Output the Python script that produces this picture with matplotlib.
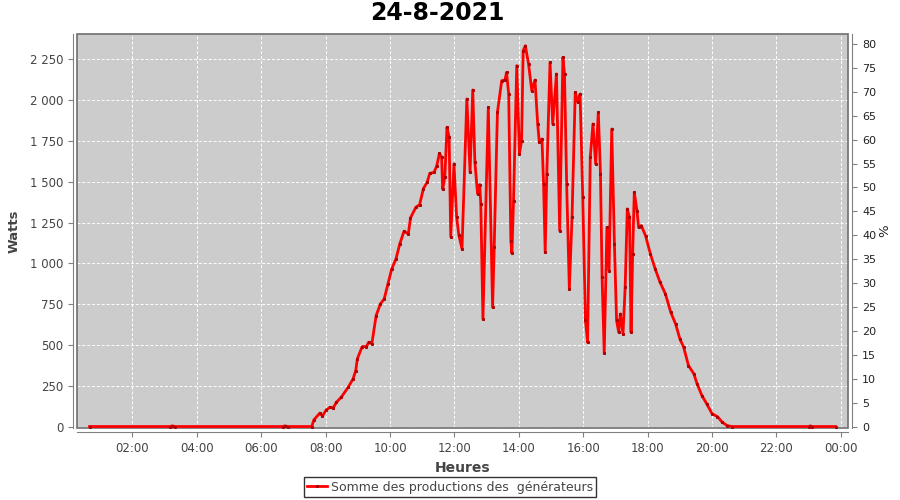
import pandas as pd
import matplotlib
matplotlib.use("Agg")
import matplotlib.pyplot as plt
from matplotlib.lines import Line2D
from matplotlib.patches import Rectangle
from matplotlib.ticker import FuncFormatter, MultipleLocator

# Données : heure et puissance (W)
heures = [
    "00:40", "03:10", "03:14", "03:20", "06:40", "06:44", "06:50", "07:34",
    "07:38", "07:49", "07:54", "08:01", "08:08", "08:14", "08:20", "08:29",
    "08:42", "08:51", "08:56", "08:59", "09:08", "09:16", "09:20", "09:26",
    "09:34", "09:42", "09:49", "09:56", "10:03", "10:11", "10:18", "10:26",
    "10:34", "10:38", "10:48", "10:55", "11:02", "11:09", "11:14", "11:22",
    "11:27", "11:32", "11:36", "11:38", "11:42", "11:46", "11:50", "11:53",
    "11:59", "12:04", "12:08", "12:14", "12:23", "12:29", "12:34", "12:38",
    "12:43", "12:47", "12:49", "12:53", "13:03", "13:11", "13:14", "13:20",
    "13:28", "13:34", "13:37", "13:41", "13:45", "13:47", "13:50", "13:56",
    "14:01", "14:05", "14:08", "14:12", "14:18", "14:24", "14:30", "14:35",
    "14:38", "14:43", "14:46", "14:49", "14:52", "14:58", "15:03", "15:10",
    "15:16", "15:22", "15:25", "15:29", "15:34", "15:39", "15:45", "15:50",
    "15:54", "15:59", "16:04", "16:08", "16:13", "16:18", "16:23", "16:28",
    "16:32", "16:35", "16:39", "16:44", "16:48", "16:53", "16:58", "17:02",
    "17:06", "17:09", "17:14", "17:18", "17:22", "17:26", "17:29", "17:32",
    "17:35", "17:40", "17:43", "17:48", "17:56", "18:05", "18:14", "18:23",
    "18:33", "18:43", "18:52", "19:00", "19:07", "19:16", "19:26", "19:32",
    "19:41", "19:50", "20:00", "20:10", "20:19", "20:28", "20:37", "23:00",
    "23:03", "23:06", "23:50",
]
watts = [
    0, 0, 4, 0, 0, 4, 0, 0,
    41, 82, 65, 102, 118, 114, 149, 180,
    241, 292, 343, 415, 490, 490, 517, 507,
    680, 752, 782, 874, 966, 1027, 1119, 1197,
    1181, 1279, 1344, 1360, 1458, 1497, 1552, 1558,
    1599, 1675, 1650, 1455, 1528, 1834, 1773, 1164,
    1610, 1282, 1176, 1089, 2008, 1558, 2063, 1620,
    1426, 1483, 1364, 660, 1956, 731, 1099, 1926,
    2120, 2124, 2171, 2038, 1140, 1062, 1385, 2212,
    1671, 1752, 2304, 2334, 2222, 2059, 2124, 1855,
    1742, 1763, 1487, 1068, 1548, 2232, 1855, 2161,
    1201, 2263, 2161, 1487, 844, 1282, 2048, 1987,
    2038, 1405, 650, 516, 1650, 1855, 1610, 1926,
    1548, 915, 450, 1221, 956, 1824, 1119, 650,
    578, 690, 568, 853, 1334, 1282, 578, 1058,
    1436, 1323, 1221, 1232, 1170, 1058, 966, 884,
    813, 700, 629, 537, 486, 374, 323, 262,
    190, 139, 78, 61, 26, 6, 0, 0,
    4, 0, 0,
]
serie = "Somme des productions des  générateurs"
titre = "24-8-2021"

t = pd.to_timedelta([h + ":00" for h in heures]).total_seconds() / 3600.0

fig = plt.figure(figsize=(9, 5), dpi=100)
ax = fig.add_axes([77.3 / 900, 1 - 428 / 500, 771 / 900, 394 / 500])
ax.set_facecolor("#cccccc")

ax.plot(t, watts, color="#ff0000", lw=2.0, marker="s", ms=1.2,
        mfc="#b00000", mec="#b00000", solid_joinstyle="round", zorder=6,
        clip_on=False)

ax.set_xlim(0.286, 24.23)
ax.set_ylim(-9, 2406)
ax.xaxis.set_major_locator(MultipleLocator(2))
ax.xaxis.set_major_formatter(FuncFormatter(lambda v, p: f"{int(round(v)) % 24:02d}:00"))
ax.yaxis.set_major_locator(MultipleLocator(250))
ax.yaxis.set_major_formatter(FuncFormatter(lambda v, p: f"{v:,.0f}".replace(",", " ")))
ax.grid(True, color="white", ls=(0, (3, 2)), lw=0.7)
ax.set_axisbelow(True)

for s in ["top", "right"]:
    ax.spines[s].set_visible(False)
for s in ["left", "bottom"]:
    ax.spines[s].set_position(("outward", 3))
    ax.spines[s].set_color("#808080")
ax.tick_params(colors="#808080", labelcolor="#444444", labelsize=8.5, length=3.5)
ax.add_patch(Rectangle((0, 0), 1, 1, transform=ax.transAxes, fill=False,
                       ec="#707070", lw=1.2, clip_on=False, zorder=5))

ax.set_xlabel("Heures", fontsize=10, fontweight="bold", color="#444444")
ax.set_ylabel("Watts", fontsize=9.5, fontweight="bold", color="#444444")
ax.xaxis.set_label_coords(0.5, -0.084)
ax.yaxis.set_label_coords(-0.074, 0.5)

ax2 = ax.twinx()
ax2.set_ylim(-0.3, 82.1)
ax2.yaxis.set_major_locator(MultipleLocator(5))
for s in ["top", "left", "bottom"]:
    ax2.spines[s].set_visible(False)
ax2.spines["right"].set_position(("outward", 3))
ax2.spines["right"].set_color("#808080")
ax2.tick_params(colors="#808080", labelcolor="#222222", labelsize=8, length=3.5)
ax2.set_ylabel("%", fontsize=9.5, color="#222222")
ax2.yaxis.set_label_coords(1.039, 0.5)

fig.text(437 / 900, 1 - 13 / 500, titre, ha="center", va="center",
         fontsize=17, fontweight="bold")

handle = Line2D([], [], color="#ff0000", lw=2, marker="s", ms=1.2,
                mfc="#b00000", mec="#b00000")
leg = fig.legend([handle], [serie], loc="center", bbox_to_anchor=(450 / 900, 1 - 487 / 500),
                 fontsize=9, frameon=True, fancybox=False, handlelength=1.6,
                 handletextpad=0.3, borderpad=0.25, borderaxespad=0)
leg.get_frame().set_edgecolor("black")
leg.get_frame().set_linewidth(1.0)
for txt in leg.get_texts():
    txt.set_color("#444444")

fig.savefig("out.png", dpi=100)
